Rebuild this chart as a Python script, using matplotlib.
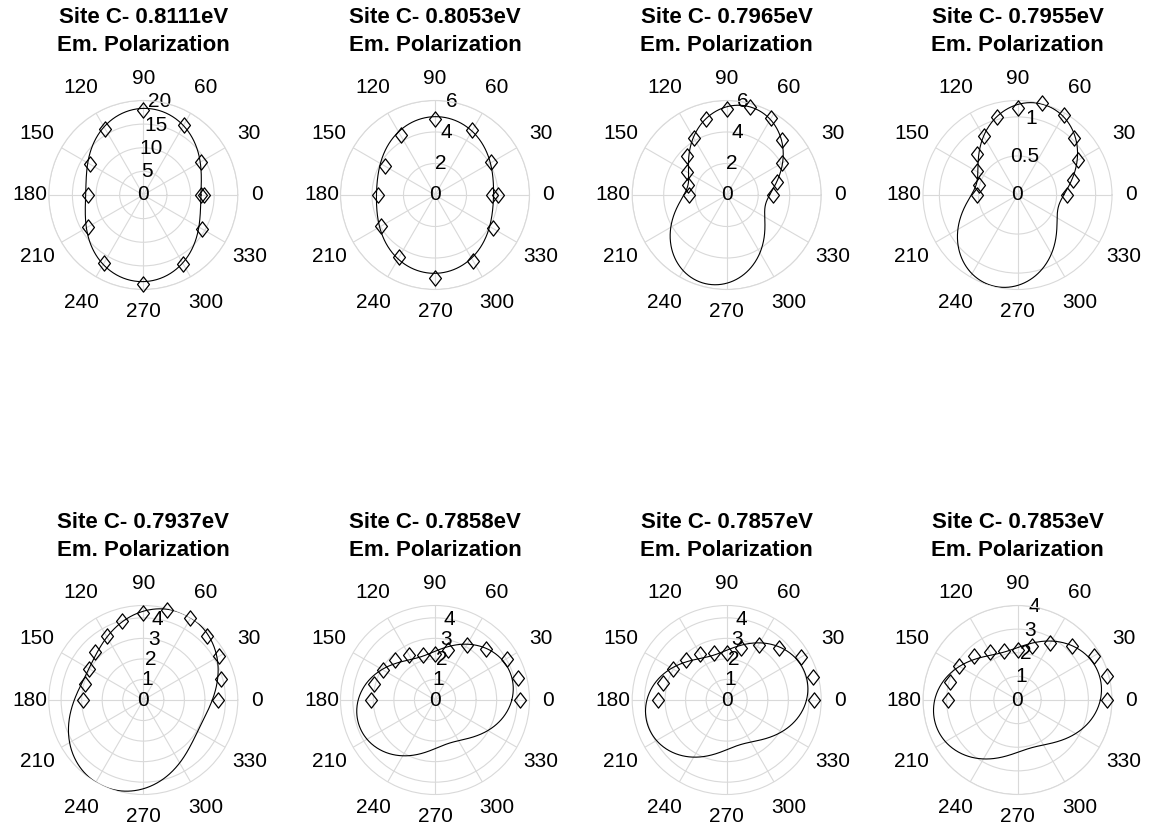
import numpy as np
import matplotlib
matplotlib.use('Agg')
import matplotlib.pyplot as plt
from matplotlib.path import Path

plt.rcParams['font.family'] = ['Liberation Sans', 'DejaVu Sans']

# --- DATA ---
energies = ['0.8111', '0.8053', '0.7965', '0.7955', '0.7937', '0.7858', '0.7857', '0.7853']

ang_full = np.arange(0, 361, 30)   # first two lines: full turn
ang_half = np.arange(0, 181, 15)   # the rest: half turn

r_8111 = [12.2, 14.1, 17.2, 18.0, 16.2, 12.95, 11.65, 13.6, 16.7, 18.9, 16.8, 14.3, 12.85]
r_8053 = [3.65, 4.14, 4.74, 4.83, 4.38, 3.70, 3.60, 3.98, 4.53, 5.25, 4.83, 4.25, 3.98]
r_7965 = [2.92, 3.30, 4.05, 4.97, 5.67, 5.80, 5.48, 4.97, 4.18, 3.54, 2.88, 2.52, 2.40]
r_7955 = [0.64, 0.74, 0.89, 1.03, 1.185, 1.22, 1.12, 1.03, 0.87, 0.735, 0.605, 0.51, 0.52]
r_7937 = [3.65, 3.91, 4.25, 4.41, 4.59, 4.54, 4.25, 3.99, 3.58, 3.32, 3.04, 2.96, 2.95]
r_7858 = [4.16, 4.18, 4.03, 3.54, 3.08, 2.51, 2.25, 2.28, 2.52, 2.73, 2.90, 3.08, 3.13]
r_7857 = [4.26, 4.37, 4.15, 3.59, 3.11, 2.62, 2.31, 2.38, 2.57, 2.78, 3.03, 3.22, 3.33]
r_7853 = [3.78, 3.93, 3.72, 3.25, 2.79, 2.37, 2.13, 2.14, 2.36, 2.61, 2.85, 2.96, 2.95]

angles = [ang_full, ang_full] + [ang_half] * 6
radii = [r_8111, r_8053, r_7965, r_7955, r_7937, r_7858, r_7857, r_7853]

r_max = [20, 6, 6, 1.21, 4.6, 4.6, 4.6, 4.0]
r_ticks = [[0, 5, 10, 15, 20], [0, 2, 4, 6], [0, 2, 4, 6], [0, 0.5, 1],
           [0, 1, 2, 3, 4], [0, 1, 2, 3, 4], [0, 1, 2, 3, 4], [0, 1, 2, 3, 4]]
r_ticklabels = [['0', '5', '10', '15', '20'], ['0', '2', '4', '6'], ['0', '2', '4', '6'],
                ['0', '0.5', '1'], ['0', '1', '2', '3', '4'], ['0', '1', '2', '3', '4'],
                ['0', '1', '2', '3', '4'], ['0', '1', '2', '3', '4']]

# slightly tall diamond marker
diamond = Path([(0, 1), (0.78, 0), (0, -1), (-0.78, 0), (0, 1)],
               [Path.MOVETO, Path.LINETO, Path.LINETO, Path.LINETO, Path.CLOSEPOLY])

# --- FIGURE ---
W, H = 1149, 832
fig = plt.figure(figsize=(W / 100, H / 100), dpi=100)

col_x = [143.3, 435.0, 726.7, 1017.5]
row_y = [195.0, 700.0]
rad = 94.5
grid_col = '#d9d9d9'

for k in range(8):
    cx = col_x[k % 4]
    cy = row_y[k // 4]
    ax = fig.add_axes([(cx - rad) / W, 1 - (cy + rad) / H, 2 * rad / W, 2 * rad / H],
                      projection='polar')

    th = np.deg2rad(angles[k])
    r = np.array(radii[k])

    # cos^2 fit: r = a + b cos(2t) + c sin(2t)
    X = np.column_stack([np.ones_like(th), np.cos(2 * th), np.sin(2 * th)])
    coef = np.linalg.lstsq(X, r, rcond=None)[0]
    tt = np.linspace(0, 2 * np.pi, 721)
    rr = coef[0] + coef[1] * np.cos(2 * tt) + coef[2] * np.sin(2 * tt)

    ax.plot(tt, rr, '-', color='k', linewidth=0.8, zorder=3)
    ax.plot(th, r, linestyle='none', marker=diamond, markerfacecolor='none',
            markeredgecolor='k', markersize=11, markeredgewidth=0.9,
            clip_on=False, zorder=4)

    rm = r_max[k]
    ax.set_ylim(0, rm)
    ax.set_xticks(np.deg2rad(np.arange(0, 360, 30)))
    ax.set_xticklabels([])
    ax.set_yticks([t for t in r_ticks[k] if t > 0])
    ax.set_yticklabels([])
    ax.tick_params(length=0)
    ax.grid(True, color=grid_col, linewidth=0.8)
    ax.spines['polar'].set_color(grid_col)
    ax.spines['polar'].set_linewidth(0.8)

    # angle labels, pushed a bit further out on the diagonals
    for a in range(0, 360, 30):
        s = np.sin(np.deg2rad(a))
        f = 1.2 + 0.035 * s ** 2 + 0.1 * abs(np.sin(np.deg2rad(2 * a)))
        ax.text(np.deg2rad(a), f * rm, str(a), ha='center', va='center',
                fontsize=15, clip_on=False)
    for t, lab in zip(r_ticks[k], r_ticklabels[k]):
        ax.text(np.deg2rad(80), t, lab, ha='center', va='center', fontsize=15, zorder=2)

    ax.text(0.5, 1 + 69 / (2 * rad), f'Site C- {energies[k]}eV\nEm. Polarization',
            transform=ax.transAxes, ha='center', va='center', fontsize=16,
            fontweight='bold', linespacing=1.45)

fig.savefig('out.png', dpi=100)
